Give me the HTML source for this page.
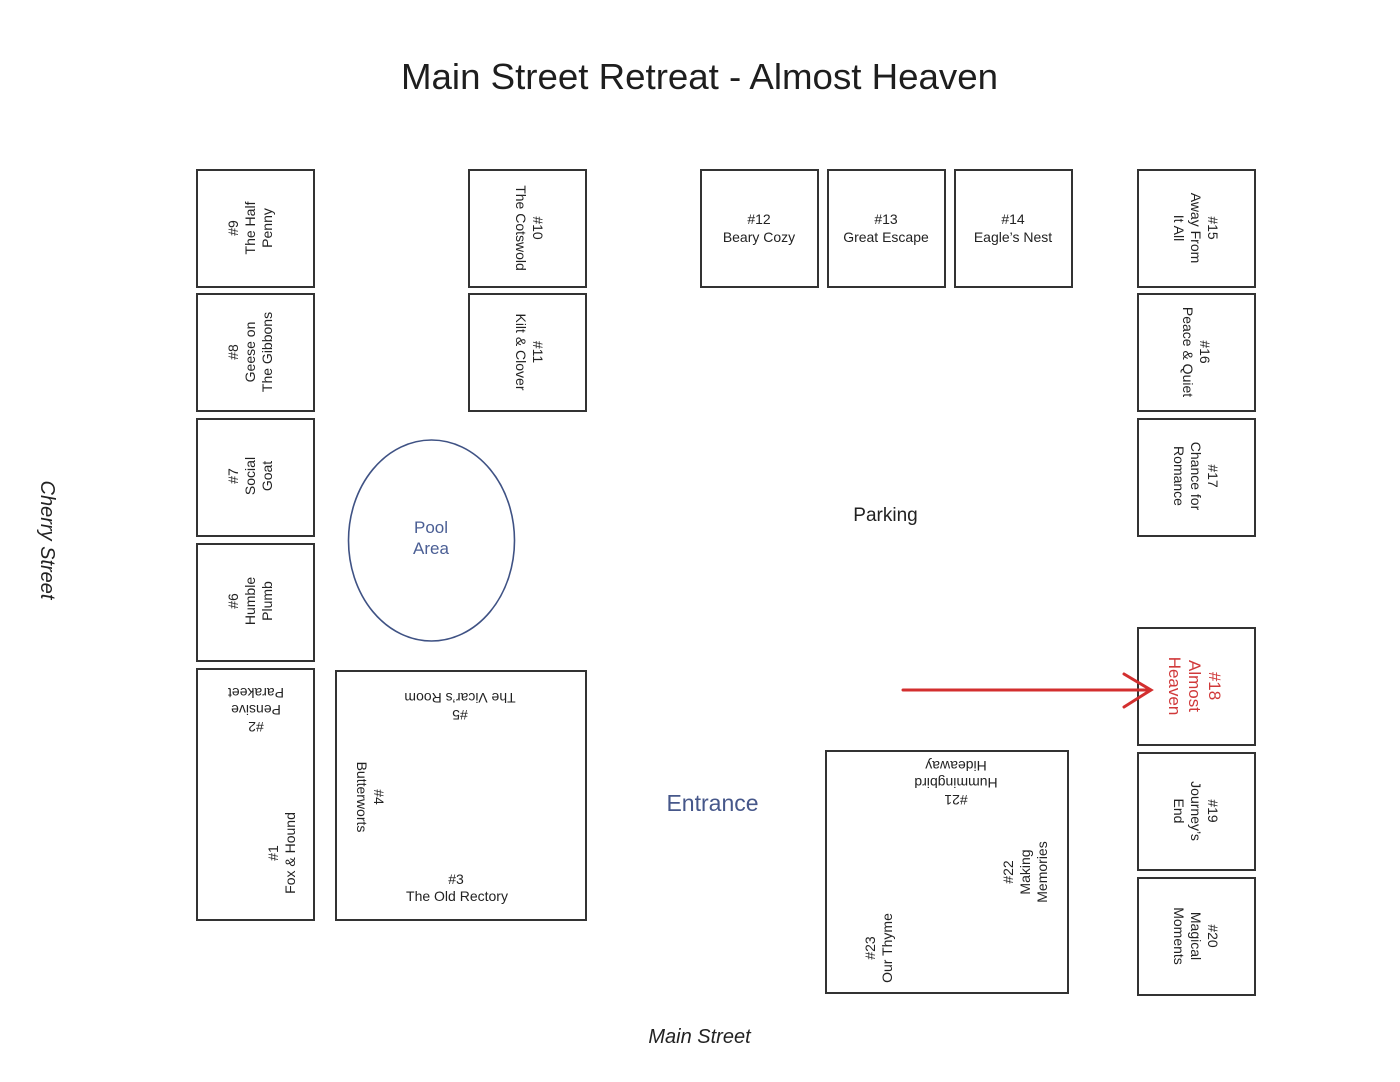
<!DOCTYPE html>
<html>
<head>
<meta charset="utf-8">
<style>
  html,body{margin:0;padding:0;background:#fff;}
  svg{display:block;}
  text{font-family:"Liberation Sans",sans-serif;}
</style>
</head>
<body>
<svg width="1400" height="1082" viewBox="0 0 1400 1082" xmlns="http://www.w3.org/2000/svg">
  <rect width="1400" height="1082" fill="#fff"/>

  <!-- Title -->
  <text x="699.5" y="89" font-size="36" text-anchor="middle" fill="#1e1e1e" textLength="597" lengthAdjust="spacingAndGlyphs">Main Street Retreat - Almost Heaven</text>

  <!-- Boxes -->
  <g fill="#fff" stroke="#333" stroke-width="2">
    <!-- left column -->
    <rect x="197" y="170" width="117" height="117"/>
    <rect x="197" y="294" width="117" height="117"/>
    <rect x="197" y="419" width="117" height="117"/>
    <rect x="197" y="544" width="117" height="117"/>
    <rect x="197" y="669" width="117" height="251"/>
    <!-- second column -->
    <rect x="469" y="170" width="117" height="117"/>
    <rect x="469" y="294" width="117" height="117"/>
    <!-- big box 3-5 -->
    <rect x="336" y="671" width="250" height="249"/>
    <!-- top row -->
    <rect x="701" y="170" width="117" height="117"/>
    <rect x="828" y="170" width="117" height="117"/>
    <rect x="955" y="170" width="117" height="117"/>
    <!-- right column -->
    <rect x="1138" y="170" width="117" height="117"/>
    <rect x="1138" y="294" width="117" height="117"/>
    <rect x="1138" y="419" width="117" height="117"/>
    <rect x="1138" y="628" width="117" height="117"/>
    <rect x="1138" y="753" width="117" height="117"/>
    <rect x="1138" y="878" width="117" height="117"/>
    <!-- big box 21-23 -->
    <rect x="826" y="751" width="242" height="242"/>
  </g>

  <!-- Pool -->
  <ellipse cx="431.5" cy="540.5" rx="83" ry="100.5" fill="none" stroke="#3f5284" stroke-width="1.6"/>
  <text x="431" y="533" font-size="17" text-anchor="middle" fill="#4a5e94">Pool</text>
  <text x="431" y="554" font-size="17" text-anchor="middle" fill="#4a5e94">Area</text>

  <!-- Labels in boxes -->
  <g font-size="14" fill="#222" text-anchor="middle">
    <!-- #9 -->
    <g transform="translate(250,228) rotate(-90)">
      <text y="-12">#9</text><text y="5">The Half</text><text y="22">Penny</text>
    </g>
    <!-- #8 -->
    <g transform="translate(250,352) rotate(-90)">
      <text y="-12">#8</text><text y="5">Geese on</text><text y="22">The Gibbons</text>
    </g>
    <!-- #7 -->
    <g transform="translate(250,476) rotate(-90)">
      <text y="-12">#7</text><text y="5">Social</text><text y="22">Goat</text>
    </g>
    <!-- #6 -->
    <g transform="translate(250,601) rotate(-90)">
      <text y="-12">#6</text><text y="5">Humble</text><text y="22">Plumb</text>
    </g>
    <!-- #10 -->
    <g transform="translate(530,228) rotate(90)">
      <text y="-3">#10</text><text y="14">The Cotswold</text>
    </g>
    <!-- #11 -->
    <g transform="translate(530,352) rotate(90)">
      <text y="-3">#11</text><text y="14">Kilt &amp; Clover</text>
    </g>
    <!-- #12-14 -->
    <text x="759" y="224">#12</text><text x="759" y="242">Beary Cozy</text>
    <text x="886" y="224">#13</text><text x="886" y="242">Great Escape</text>
    <text x="1013" y="224">#14</text><text x="1013" y="242">Eagle’s Nest</text>
    <!-- #15 -->
    <g transform="translate(1196,228) rotate(90)">
      <text y="-12">#15</text><text y="5">Away From</text><text y="22">It All</text>
    </g>
    <!-- #16 -->
    <g transform="translate(1197,352) rotate(90)">
      <text y="-3">#16</text><text y="14">Peace &amp; Quiet</text>
    </g>
    <!-- #17 -->
    <g transform="translate(1196,476) rotate(90)">
      <text y="-12">#17</text><text y="5">Chance for</text><text y="22">Romance</text>
    </g>
    <!-- #19 -->
    <g transform="translate(1196,811) rotate(90)">
      <text y="-12">#19</text><text y="5">Journey’s</text><text y="22">End</text>
    </g>
    <!-- #20 -->
    <g transform="translate(1196,936) rotate(90)">
      <text y="-12">#20</text><text y="5">Magical</text><text y="22">Moments</text>
    </g>
    <!-- #2 -->
    <g transform="translate(256,710) rotate(180)">
      <text y="-12">#2</text><text y="5">Pensive</text><text y="22">Parakeet</text>
    </g>
    <!-- #1 -->
    <g transform="translate(281,853) rotate(-90)">
      <text y="-3">#1</text><text y="14">Fox &amp; Hound</text>
    </g>
    <!-- #5 -->
    <g transform="translate(460,707) rotate(180)">
      <text y="-3">#5</text><text y="14">The Vicar’s Room</text>
    </g>
    <!-- #4 -->
    <g transform="translate(371,797) rotate(90)">
      <text y="-3">#4</text><text y="14">Butterworts</text>
    </g>
    <!-- #3 -->
    <text x="456" y="884">#3</text><text x="457" y="901">The Old Rectory</text>
    <!-- #21 -->
    <g transform="translate(956,783) rotate(180)">
      <text y="-12">#21</text><text y="5">Hummingbird</text><text y="22">Hideaway</text>
    </g>
    <!-- #22 -->
    <g transform="translate(1025,872) rotate(-90)">
      <text y="-12">#22</text><text y="5">Making</text><text y="22">Memories</text>
    </g>
    <!-- #23 -->
    <g transform="translate(878,948) rotate(-90)">
      <text y="-3">#23</text><text y="14">Our Thyme</text>
    </g>
  </g>

  <!-- #18 red -->
  <g transform="translate(1195,686) rotate(90)" font-size="17" fill="#d0393a" text-anchor="middle">
    <text y="-14">#18</text><text y="6">Almost</text><text y="26">Heaven</text>
  </g>

  <!-- Arrow -->
  <g stroke="#d32f2f" stroke-width="3" fill="none" stroke-linecap="round">
    <line x1="903" y1="690" x2="1149" y2="690"/>
    <polyline points="1124,674 1151,690 1124,707"/>
  </g>

  <!-- Other labels -->
  <text x="885.5" y="521" font-size="19" text-anchor="middle" fill="#222">Parking</text>
  <text x="712.5" y="811" font-size="23" text-anchor="middle" fill="#46578a">Entrance</text>
  <text x="699.5" y="1043" font-size="20" font-style="italic" text-anchor="middle" fill="#222">Main Street</text>
  <g transform="translate(48,540) rotate(90)">
    <text y="0" dy="7" font-size="20" font-style="italic" text-anchor="middle" fill="#222">Cherry Street</text>
  </g>
</svg>
</body>
</html>
